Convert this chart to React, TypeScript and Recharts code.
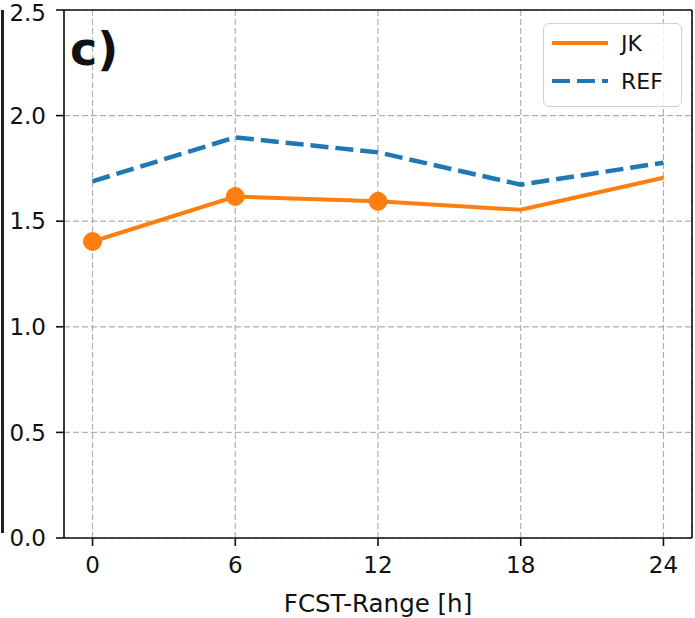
import React from "react";
import {
  LineChart,
  Line,
  XAxis,
  YAxis,
  CartesianGrid,
  Legend,
  ReferenceLine,
} from "recharts";

const fcstHours = [0, 6, 12, 18, 24];
const jkValues = [1.404, 1.617, 1.594, 1.554, 1.706];
const refValues = [1.689, 1.897, 1.826, 1.673, 1.777];
const jkMarkerCount = 3;
const xTicks = [0, 6, 12, 18, 24];
const yTicks = [0, 0.5, 1.0, 1.5, 2.0, 2.5];
const xDomain = [-1.2, 25.2];
const yDomain = [0, 2.5];
const panelLabel = "c)";
const xAxisLabel = "FCST-Range [h]";

const ORANGE = "#ff7f0e";
const BLUE = "#1f77b4";
const FONT = "'DejaVu Sans', sans-serif";

const data = fcstHours.map((h, i) => ({ h, JK: jkValues[i], REF: refValues[i] }));

const JkDot = (props: any) => {
  const { cx, cy, index } = props;
  if (index >= jkMarkerCount || cx == null || cy == null) return <g key={`d-${index}`} />;
  return <circle key={`d-${index}`} cx={cx} cy={cy} r={9} fill={ORANGE} stroke={ORANGE} strokeWidth={1} />;
};

const LegendBox = () => (
  <div
    style={{
      width: 137,
      height: 82,
      border: "1px solid #d0d0d0",
      borderRadius: 6,
      background: "rgba(255,255,255,0.8)",
      position: "relative",
    }}
  >
    <svg width={137} height={82} style={{ position: "absolute", left: 0, top: 0 }}>
      <line x1={8} y1={19} x2={64} y2={19} stroke={ORANGE} strokeWidth={4} />
      <line x1={8} y1={57} x2={64} y2={57} stroke={BLUE} strokeWidth={4} strokeDasharray="18 7" />
      <text x={77} y={27} fontFamily={FONT} fontSize={22} fill="#111">JK</text>
      <text x={77} y={65} fontFamily={FONT} fontSize={22} fill="#111">REF</text>
    </svg>
  </div>
);

export default function App() {
  return (
    <div style={{ position: "absolute", left: 0, top: 0, width: 695, height: 618, background: "#fff", overflow: "hidden" }}>
      <div style={{ position: "absolute", left: 1, top: 10, width: 2.5, height: 523, background: "#222" }} />
      <LineChart
        width={695}
        height={618}
        data={data}
        margin={{ top: 10, right: 3, bottom: 0, left: 0 }}
        style={{ fontFamily: FONT }}
      >
        <CartesianGrid stroke="#b0b0b0" strokeDasharray="6 3" strokeWidth={1.2} />
        <XAxis
          dataKey="h"
          type="number"
          domain={xDomain}
          ticks={xTicks}
          allowDataOverflow
          height={80}
          tickSize={8}
          tickMargin={11}
          axisLine={{ stroke: "#111", strokeWidth: 1.6 }}
          tickLine={{ stroke: "#111", strokeWidth: 1.6 }}
          tick={{ fill: "#111", fontSize: 23, fontFamily: FONT }}
          label={{ value: xAxisLabel, position: "insideBottom", offset: 6, fill: "#111", fontSize: 24.5, fontFamily: FONT }}
        />
        <YAxis
          type="number"
          domain={yDomain}
          ticks={yTicks}
          allowDataOverflow
          width={64}
          tickSize={8}
          tickMargin={10}
          tickFormatter={(v: number) => v.toFixed(1)}
          axisLine={{ stroke: "#111", strokeWidth: 1.6 }}
          tickLine={{ stroke: "#111", strokeWidth: 1.6 }}
          tick={{ fill: "#111", fontSize: 23, fontFamily: FONT }}
        />
        <ReferenceLine y={yDomain[1]} stroke="#111" strokeWidth={1.6} ifOverflow="visible" />
        <ReferenceLine x={xDomain[1]} stroke="#111" strokeWidth={1.6} ifOverflow="visible" />
        <Line
          dataKey="REF"
          stroke={BLUE}
          strokeWidth={4.5}
          strokeDasharray="18 7"
          dot={false}
          isAnimationActive={false}
        />
        <Line
          dataKey="JK"
          stroke={ORANGE}
          strokeWidth={4}
          dot={JkDot}
          activeDot={false}
          isAnimationActive={false}
        />
        <Legend
          layout="horizontal"
          verticalAlign="middle"
          align="center"
          content={() => <LegendBox />}
          wrapperStyle={{ position: "absolute", left: 543, top: 23, width: 139, height: 84 }}
        />
        <text x={70} y={65} fontFamily={FONT} fontSize={46} fontWeight="bold" fill="#111">{panelLabel}</text>
      </LineChart>
    </div>
  );
}
